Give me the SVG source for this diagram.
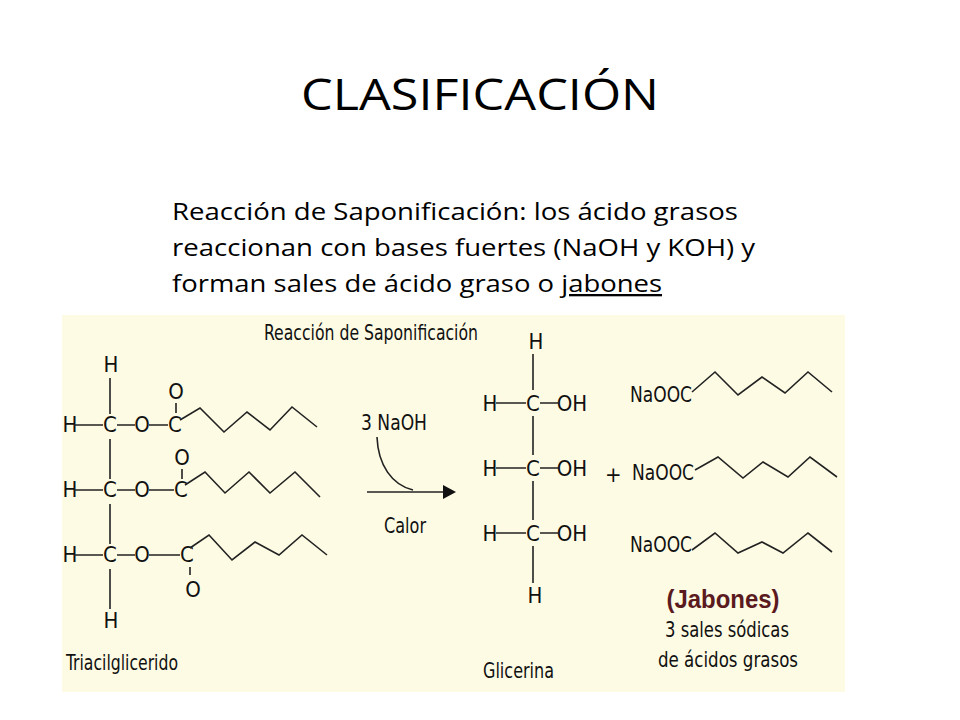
<svg xmlns="http://www.w3.org/2000/svg" width="960" height="720" viewBox="0 0 960 720">
<style>
.h{font-family:"Open Sans","Liberation Sans",sans-serif;fill:#000}
.c{font-family:"Liberation Sans Narrow","DejaVu Sans Condensed","Liberation Sans",sans-serif;font-size:22px;fill:#111}
.b{stroke:#222;stroke-width:1.6;fill:none}
</style>
<rect width="960" height="720" fill="#fff"/>
<text class="h" x="480" y="110" font-size="44" text-anchor="middle" textLength="358" lengthAdjust="spacingAndGlyphs">CLASIFICACIÓN</text>
<g class="h" font-size="23">
<text x="172" y="220" textLength="566" lengthAdjust="spacingAndGlyphs">Reacción de Saponificación: los ácido grasos</text>
<text x="172" y="256" textLength="583" lengthAdjust="spacingAndGlyphs">reaccionan con bases fuertes (NaOH y KOH) y</text>
<text x="172" y="292" textLength="490" lengthAdjust="spacingAndGlyphs">forman sales de ácido graso o <tspan text-decoration="underline">jabones</tspan></text>
</g>
<rect x="62" y="315" width="783" height="377" fill="#fdfbe4"/>
<text class="c" x="264" y="340" font-size="20" textLength="214" lengthAdjust="spacingAndGlyphs">Reacción de Saponificación</text>
<g id="triacilglicerido">
<g class="c" text-anchor="middle">
<text x="111" y="372">H</text>
<text x="70" y="432">H</text><text x="110" y="432">C</text><text x="142" y="432">O</text><text x="175" y="432">C</text>
<text x="176" y="399">O</text>
<text x="70" y="497">H</text><text x="110" y="497">C</text><text x="142" y="497">O</text><text x="181" y="497">C</text>
<text x="182" y="465">O</text>
<text x="70" y="562">H</text><text x="110" y="562">C</text><text x="142" y="562">O</text><text x="187" y="562">C</text>
<text x="193" y="597">O</text>
<text x="111" y="628">H</text>
</g>
<path class="b" d="M110 378V414M110 439V479M110 504V544M110 569V609M74 425H103M117 425H135M149 425H168M74 490H103M117 490H135M149 490H174M74 555H103M117 555H135M149 555H180M176 403V413M182 469V479M190 567V575"/>
<polyline class="b" points="180,420 200,408 224,432 247,412 270,430 292,407 317,427"/>
<polyline class="b" points="185,485 205,472 225,493 249,472 270,493 295,472 320,497"/>
<polyline class="b" points="190,548 209,535 232,560 255,542 279,555 302,535 327,555"/>
<text class="c" x="66" y="670" font-size="21" textLength="112" lengthAdjust="spacingAndGlyphs">Triacilglicerido</text>
</g>
<g id="reaccion">
<text class="c" x="361" y="430" textLength="66" lengthAdjust="spacingAndGlyphs">3 NaOH</text>
<path class="b" d="M377 437C378 465 392 485 413 490"/>
<line class="b" x1="367" y1="492" x2="443" y2="492"/>
<polygon points="443,485 456,492 443,499" fill="#111"/>
<text class="c" x="384" y="533" textLength="42" lengthAdjust="spacingAndGlyphs">Calor</text>
</g>
<g id="glicerina">
<g class="c" text-anchor="middle">
<text x="536" y="349">H</text>
<text x="490" y="411">H</text><text x="533" y="411">C</text><text x="572" y="411">OH</text>
<text x="490" y="476">H</text><text x="533" y="476">C</text><text x="572" y="476">OH</text>
<text x="490" y="541">H</text><text x="533" y="541">C</text><text x="572" y="541">OH</text>
<text x="535" y="603">H</text>
</g>
<path class="b" d="M533 354V390M533 416V455M533 481V520M533 546V583M496 403H526M540 403H559M496 468H526M540 468H559M496 533H526M540 533H559"/>
<text class="c" x="483" y="678" font-size="21" textLength="71" lengthAdjust="spacingAndGlyphs">Glicerina</text>
</g>
<g id="jabones">
<text class="c" x="605" y="482" font-size="18">+</text>
<text class="c" x="630" y="402" textLength="62" lengthAdjust="spacingAndGlyphs">NaOOC</text>
<text class="c" x="632" y="480" textLength="62" lengthAdjust="spacingAndGlyphs">NaOOC</text>
<text class="c" x="630" y="552" textLength="62" lengthAdjust="spacingAndGlyphs">NaOOC</text>
<polyline class="b" points="692,392 715,372 738,395 762,377 785,393 808,372 832,392"/>
<polyline class="b" points="695,470 718,457 743,478 763,462 788,477 810,457 837,477"/>
<polyline class="b" points="692,550 715,533 738,553 762,542 783,553 808,533 832,552"/>
<text x="723" y="608" text-anchor="middle" font-family="Liberation Sans Narrow,Liberation Sans,sans-serif" font-weight="bold" font-size="25" fill="#5a1a1e" textLength="113" lengthAdjust="spacingAndGlyphs">(Jabones)</text>
<text class="c" x="727" y="637" text-anchor="middle" font-size="21" textLength="124" lengthAdjust="spacingAndGlyphs">3 sales sódicas</text>
<text class="c" x="728" y="667" text-anchor="middle" font-size="21" textLength="140" lengthAdjust="spacingAndGlyphs">de ácidos grasos</text>
</g>
</svg>
